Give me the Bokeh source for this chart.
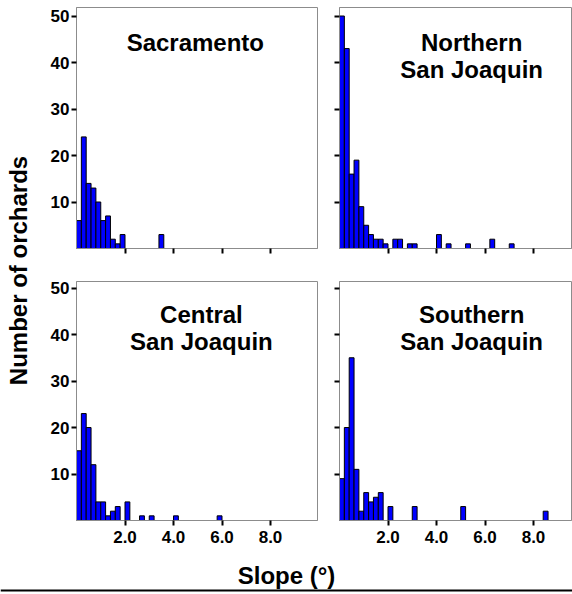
import math
from bokeh.plotting import figure
from bokeh.models import Range1d, FixedTicker, Span
from bokeh.layouts import row, column
from bokeh.core.properties import value
from bokeh.embed import file_html
from bokeh.resources import INLINE

# ---------------- data ----------------
BIN_WIDTH = 0.2

sac_bins = [0.0, 0.2, 0.4, 0.6, 0.8, 1.0, 1.2, 1.4, 1.6, 1.8, 3.4]
sac_counts = [6, 24, 14, 13, 10, 6, 7, 2, 1, 3, 3]

nsj_bins = [0.0, 0.2, 0.4, 0.6, 0.8, 1.0, 1.2, 1.4, 1.6, 1.8,
            2.2, 2.4, 2.8, 3.0, 4.0, 4.4, 5.2, 6.2, 7.0]
nsj_counts = [50, 43, 16, 19, 9, 5, 3, 2, 2, 1,
              2, 2, 1, 1, 3, 1, 1, 2, 1]

csj_bins = [0.0, 0.2, 0.4, 0.6, 0.8, 1.0, 1.2, 1.4, 1.6, 2.0, 2.6, 3.0, 4.0, 5.8]
csj_counts = [15, 23, 20, 12, 4, 4, 1, 2, 3, 4, 1, 1, 1, 1]

ssj_bins = [0.0, 0.2, 0.4, 0.6, 0.8, 1.0, 1.2, 1.4, 1.6, 2.0, 3.0, 5.0, 8.4]
ssj_counts = [9, 20, 35, 11, 2, 6, 4, 5, 6, 3, 3, 3, 2]

titles = [["Sacramento"], ["Northern", "San Joaquin"],
          ["Central", "San Joaquin"], ["Southern", "San Joaquin"]]

y_ticks = [10, 20, 30, 40, 50]
x_ticks = [2, 4, 6, 8]
x_tick_labels = ["2.0", "4.0", "6.0", "8.0"]

y_axis_title = "Number of orchards"
x_axis_title = "Slope (\u00b0)"

# ---------------- style ----------------
FONT = "Liberation Sans"
BAR_COLOR = "#0000FF"
FRAME_COLOR = "#8c8c8c"
PX_PER_UNIT_X = 24.25
PX_PER_UNIT_Y = 4.65


def make_panel(bins, counts, title_lines, title_x, show_ylab, show_xlab,
               width, min_left, min_right, height, min_top, min_bottom):
    frame_w = width - min_left - min_right
    frame_h = height - min_top - min_bottom
    xmax = frame_w / PX_PER_UNIT_X
    ymax = frame_h / PX_PER_UNIT_Y
    p = figure(width=width, height=height, output_backend="svg",
               toolbar_location=None, tools="",
               x_range=Range1d(0, xmax), y_range=Range1d(0, ymax),
               min_border_left=min_left, min_border_right=min_right,
               min_border_top=min_top, min_border_bottom=min_bottom)
    p.grid.visible = False
    p.outline_line_color = FRAME_COLOR
    p.outline_line_width = 1
    p.background_fill_color = "white"
    p.border_fill_color = "white"

    lefts = list(bins)
    rights = [b + BIN_WIDTH for b in bins]
    p.quad(left=lefts, right=rights, bottom=0, top=counts,
           fill_color=BAR_COLOR, line_color="black", line_width=1)

    for ax in (p.xaxis[0], p.yaxis[0]):
        ax.axis_line_color = FRAME_COLOR
        ax.axis_line_width = 1
        ax.major_tick_line_color = "black"
        ax.major_tick_line_width = 2
        ax.major_tick_out = 5
        ax.major_tick_in = 0
        ax.minor_tick_line_color = None
        ax.major_label_text_font = FONT
        ax.major_label_text_font_style = "bold"
        ax.major_label_text_font_size = "17px"
        ax.major_label_text_color = "black"

    p.xaxis.ticker = FixedTicker(ticks=x_ticks)
    p.yaxis.ticker = FixedTicker(ticks=y_ticks)
    if show_xlab:
        p.xaxis.major_label_overrides = {t: l for t, l in zip(x_ticks, x_tick_labels)}
        p.xaxis.major_label_standoff = 5
    else:
        p.xaxis.major_label_overrides = {t: "" for t in x_ticks}
    if show_ylab:
        p.yaxis.major_label_overrides = {t: str(t) for t in y_ticks}
        p.yaxis.major_label_standoff = 2
    else:
        p.yaxis.major_label_overrides = {t: "" for t in y_ticks}

    n = len(title_lines)
    line_gap = 5.8
    y0 = 44.2
    ys = [y0 - i * line_gap for i in range(n)]
    p.text(x=[title_x] * n, y=ys, text=title_lines,
           text_font=value(FONT), text_font_style="bold",
           text_font_size="24px", text_color="black",
           text_align="center", text_baseline="middle")
    return p


YL_W = 44
LEFT_W, RIGHT_W = 276, 252
TOP_H, BOT_H = 280, 272

p1 = make_panel(sac_bins, sac_counts, titles[0], 4.9, True, False,
                LEFT_W, 32, 3, TOP_H, 7, 32)
p2 = make_panel(nsj_bins, nsj_counts, titles[1], 5.45, False, False,
                RIGHT_W, 19, 1, TOP_H, 7, 32)
p3 = make_panel(csj_bins, csj_counts, titles[2], 5.15, True, True,
                LEFT_W, 32, 3, BOT_H, 1, 32)
p4 = make_panel(ssj_bins, ssj_counts, titles[3], 5.45, False, True,
                RIGHT_W, 19, 1, BOT_H, 1, 32)

# y-axis title figure
YL_H = TOP_H + BOT_H
yl = figure(width=YL_W, height=YL_H, output_backend="svg", toolbar_location=None,
            tools="", x_range=Range1d(0, YL_W), y_range=Range1d(0, YL_H),
            min_border=0)
yl.axis.visible = False
yl.grid.visible = False
yl.outline_line_color = None
yl.text(x=[18], y=[YL_H - 270], text=[y_axis_title], angle=math.pi / 2,
        text_font=value(FONT), text_font_style="bold", text_font_size="24px",
        text_color="black", text_align="center", text_baseline="middle")

# x-axis title figure with bottom rule
XL_W = YL_W + LEFT_W + RIGHT_W
XL_H = 42
xl = figure(width=XL_W, height=XL_H, output_backend="svg", toolbar_location=None,
            tools="", x_range=Range1d(0, XL_W), y_range=Range1d(0, XL_H),
            min_border=0)
xl.axis.visible = False
xl.grid.visible = False
xl.outline_line_color = None
xl.text(x=[XL_W / 2], y=[XL_H - 23], text=[x_axis_title],
        text_font=value(FONT), text_font_style="bold", text_font_size="24px",
        text_color="black", text_align="center", text_baseline="middle")
xl.add_layout(Span(location=4, dimension="width", line_color="black", line_width=2))

grid = column(row(p1, p2), row(p3, p4))
page = column(row(yl, grid), xl)

open("out.html", "w").write(file_html(page, INLINE))
